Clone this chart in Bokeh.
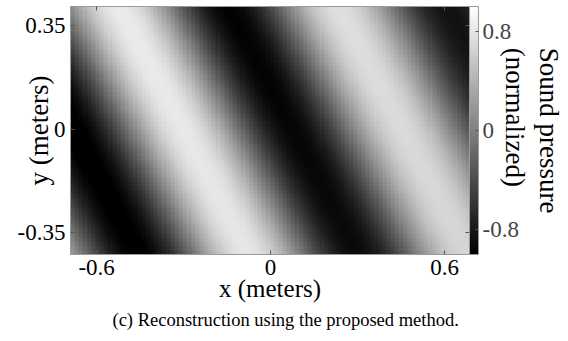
import numpy as np
from bokeh.plotting import figure
from bokeh.models import (LinearColorMapper, ColorBar, FixedTicker, LinearAxis,
                          Title, Range1d)
from bokeh.palettes import Greys256
from bokeh.embed import file_html
from bokeh.resources import INLINE

# ---- values ----
x_extent = [-0.69, 0.686]
y_extent = [-0.424, 0.414]
x_ticks = [-0.6, 0.0, 0.6]
x_tick_labels = ["-0.6", "0", "0.6"]
y_ticks = [-0.35, 0.0, 0.35]
y_tick_labels = ["-0.35", "0", "0.35"]
cbar_ticks = [-0.8, 0.0, 0.8]
cbar_tick_labels = ["-0.8", "0", "0.8"]
cbar_range = [-1.0, 1.0]
# plane-wave readings: bright crest x at y=0, horizontal period, crest tilt dx/dy
crest_x_at_y0 = -0.305
period_x = 0.765
crest_tilt = -0.53
# amplitude / offset of the pattern read at three x positions
amp_x = [-0.69, 0.0, 0.686]
amp_vals = [0.95, 0.88, 0.76]
level_offset = -0.09

x_label = "x (meters)"
y_label = "y (meters)"
cbar_title = "Sound pressure\n(normalized)"
caption = "(c) Reconstruction using the proposed method."

# ---- field grid ----
nx, ny = 96, 58
gx = np.linspace(x_extent[0], x_extent[1], nx)
gy = np.linspace(y_extent[0], y_extent[1], ny)
X, Y = np.meshgrid(gx, gy)
A = np.interp(X, amp_x, amp_vals)
Z = level_offset + A * np.cos(2 * np.pi / period_x * (X - crest_x_at_y0 - crest_tilt * Y))

SERIF = "'Liberation Serif', 'Times New Roman', serif"

FW, FH = 399, 248
p = figure(frame_width=FW, frame_height=FH,
           x_range=Range1d(*x_extent), y_range=Range1d(*y_extent),
           output_backend="svg", toolbar_location=None,
           min_border_left=70, min_border_right=99,
           min_border_top=6, min_border_bottom=87,
           x_axis_location=None, y_axis_location=None)
p.grid.visible = False
p.outline_line_color = "#9a9a9a"
p.background_fill_color = "white"

mapper = LinearColorMapper(palette=Greys256, low=cbar_range[0], high=cbar_range[1])
p.image(image=[Z], x=x_extent[0], y=y_extent[0],
        dw=x_extent[1] - x_extent[0], dh=y_extent[1] - y_extent[0],
        color_mapper=mapper)

def style_axis(ax, ticks, labels, show_labels=True, standoff=4, label_size="25px"):
    ax.ticker = FixedTicker(ticks=ticks)
    ax.major_label_overrides = {t: l for t, l in zip(ticks, labels)}
    ax.minor_tick_line_color = None
    ax.major_tick_in = 4
    ax.major_tick_out = 0
    ax.major_tick_line_color = "#555555"
    ax.axis_line_color = "#9a9a9a"
    ax.major_label_text_font = SERIF
    ax.major_label_text_font_size = "23px" if show_labels else "0px"
    ax.major_label_text_color = "black" if show_labels else None
    ax.major_label_standoff = standoff
    ax.axis_label_text_font = SERIF
    ax.axis_label_text_font_size = label_size
    ax.axis_label_text_font_style = "normal"
    ax.axis_label_text_color = "black"

xb = LinearAxis(axis_label=x_label, axis_label_standoff=-3)
style_axis(xb, x_ticks, x_tick_labels, standoff=5)
p.add_layout(xb, "below")
yl = LinearAxis(axis_label=y_label, axis_label_standoff=-39)
style_axis(yl, y_ticks, y_tick_labels, standoff=5, label_size="27px")
p.add_layout(yl, "left")
xt = LinearAxis(); style_axis(xt, x_ticks, x_tick_labels, False, 0); p.add_layout(xt, "above")
yr = LinearAxis(); style_axis(yr, y_ticks, y_tick_labels, False, 10); p.add_layout(yr, "right")

cb = ColorBar(color_mapper=mapper, width=9, margin=0, padding=0,
              ticker=FixedTicker(ticks=cbar_ticks),
              major_label_overrides={t: l for t, l in zip(cbar_ticks, cbar_tick_labels)},
              major_label_text_font=SERIF, major_label_text_font_size="23px",
              major_tick_line_color="#555555", major_tick_in=3, major_tick_out=0,
              minor_tick_line_color=None, bar_line_color="#9a9a9a",
              border_line_color=None, background_fill_color=None,
              label_standoff=4)
p.add_layout(cb, "right")

ct = Title(text=cbar_title, align="center", text_font=SERIF, text_font_size="27px",
           text_font_style="normal", text_color="black", standoff=-44,
           text_line_height=1.15)
p.add_layout(ct, "right")

cap = Title(text=caption, align="left", offset=42, text_font=SERIF,
            text_font_size="18.5px", text_font_style="normal", text_color="black",
            standoff=7)
p.add_layout(cap, "below")

open("out.html", "w").write(file_html(p, INLINE))
